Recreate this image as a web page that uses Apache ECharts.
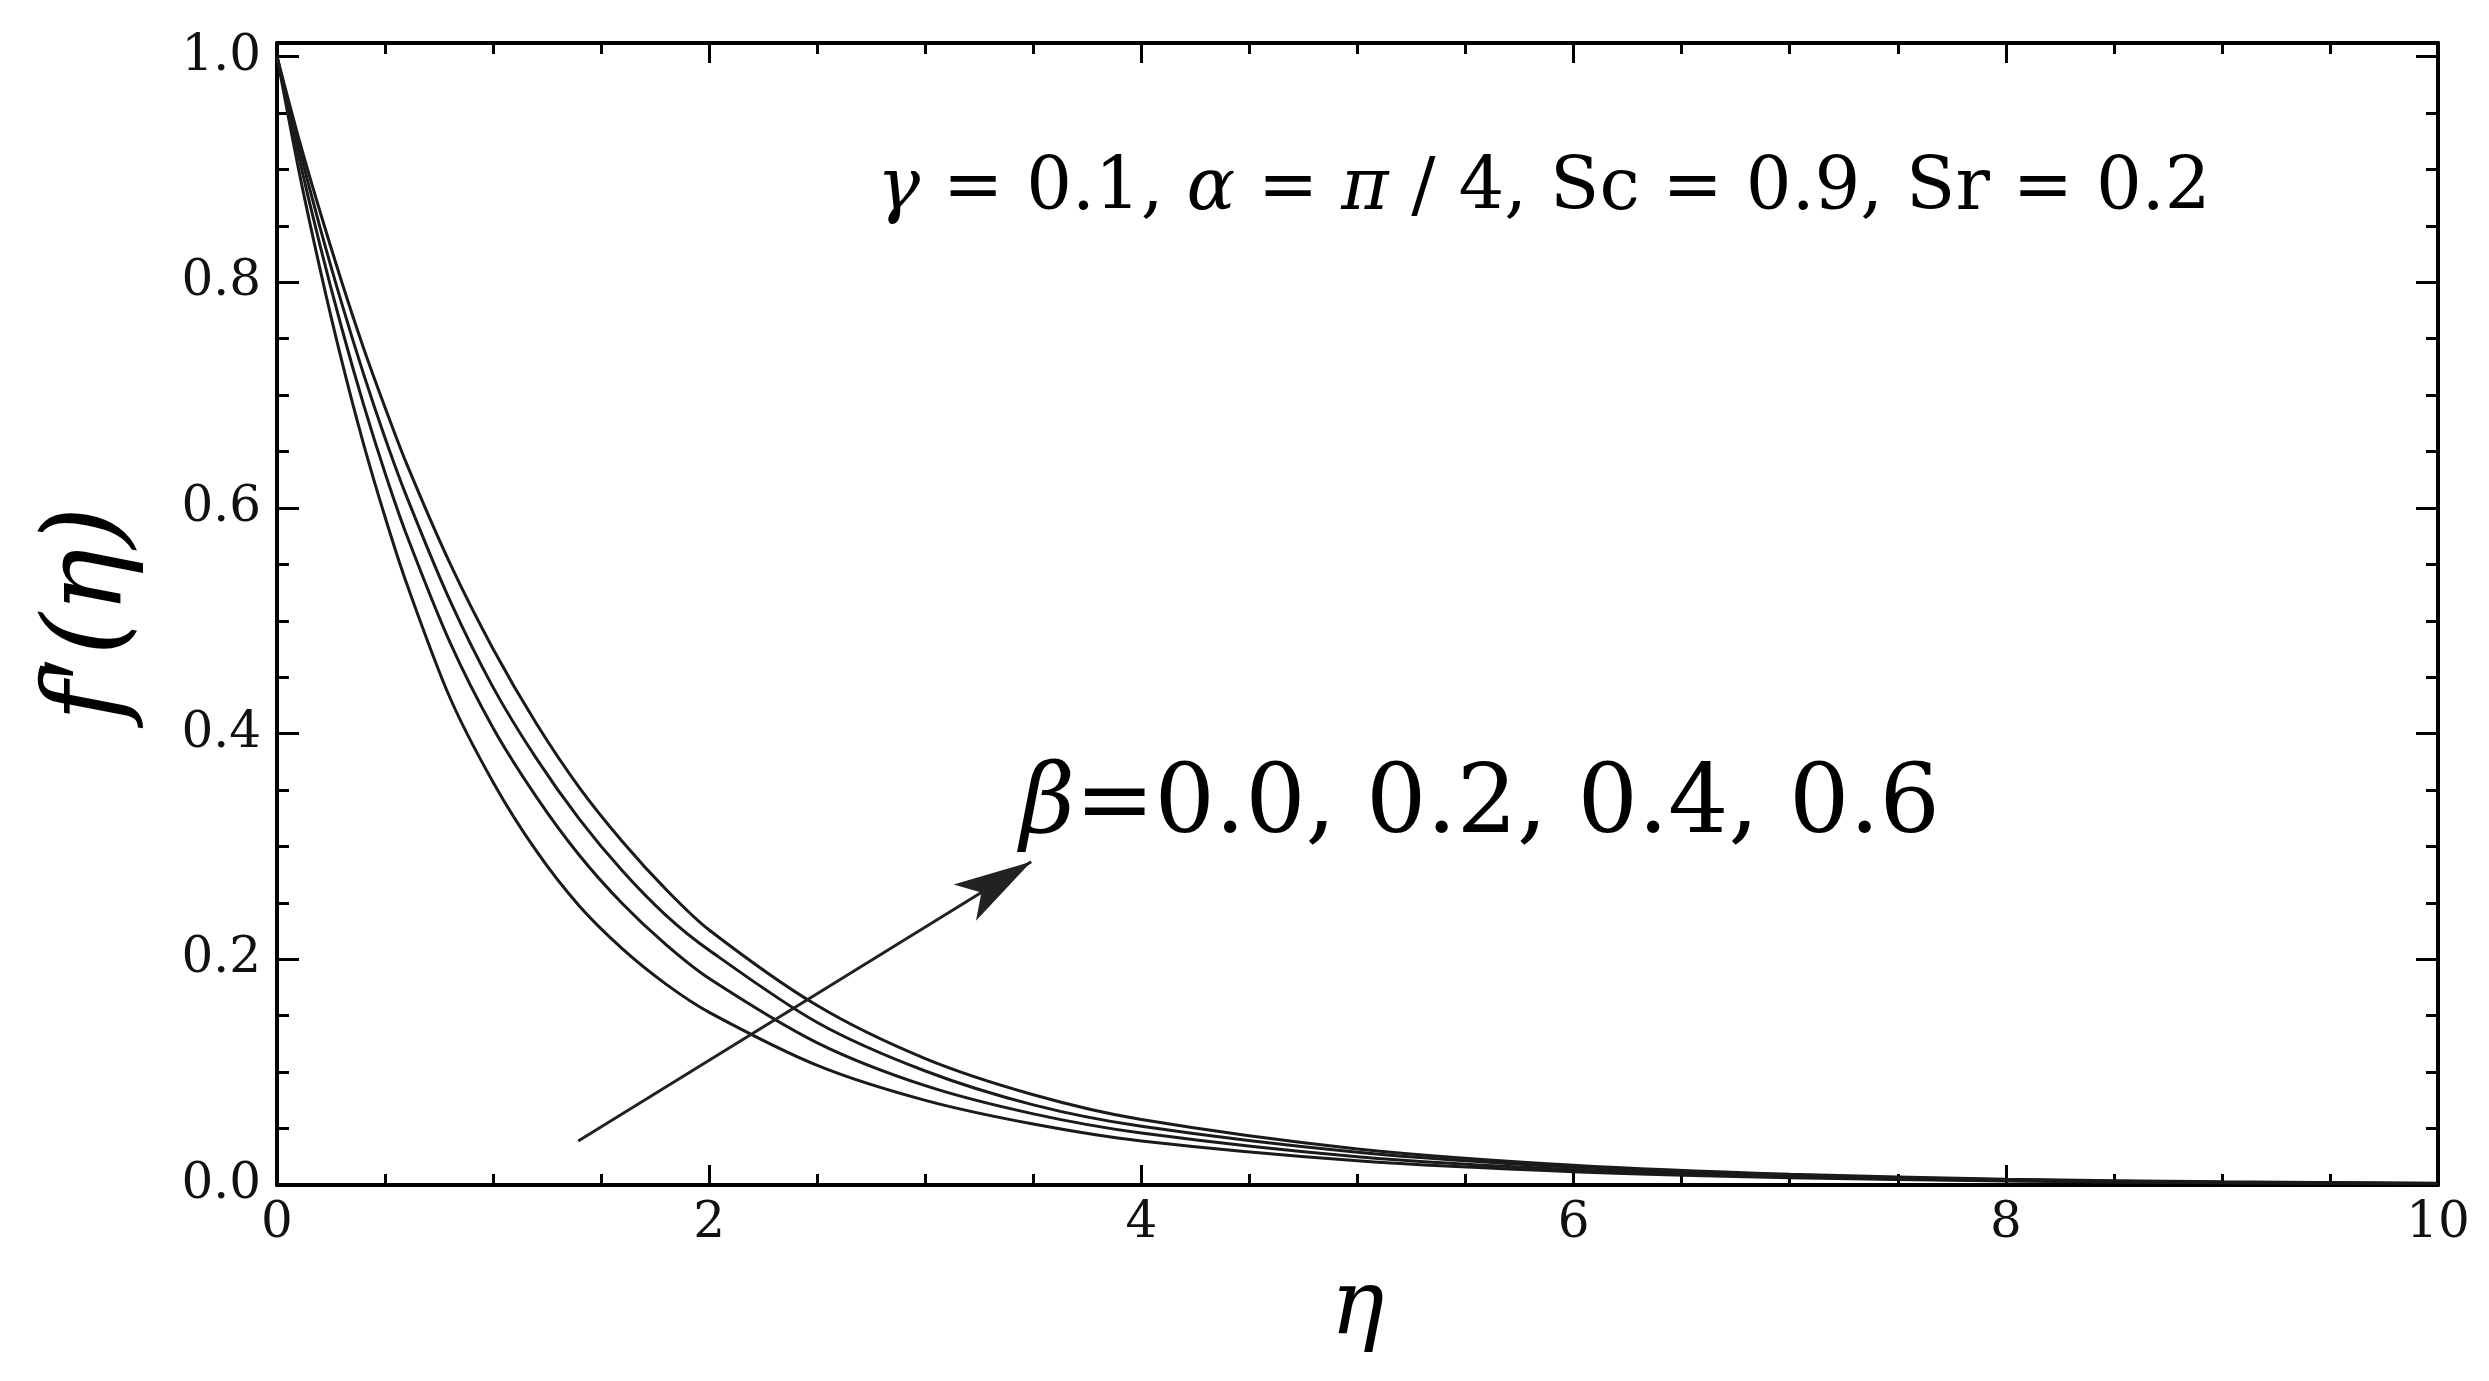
<!DOCTYPE html>
<html>
<head>
<meta charset="utf-8">
<title>f'(eta) for several beta</title>
<script src="https://cdn.jsdelivr.net/npm/echarts@6/dist/echarts.min.js"></script>
<style>
  html, body { margin: 0; padding: 0; background: #fff; }
  #chart { width: 2489px; height: 1381px; }
</style>
</head>
<body>
<div id="chart"></div>
<script>
// eta grid the curves were read at
const etaValues = [0, 0.1, 0.2, 0.3, 0.4, 0.5, 0.6, 0.8, 1.0, 1.2, 1.4, 1.6, 1.8, 2.0, 2.5, 3.0, 3.5, 4, 5, 6, 7, 8, 9, 10];
const betaLabels = ['0.0', '0.2', '0.4', '0.6'];

// f'(eta), one array per beta
const fBeta00 = [1, 0.900, 0.811, 0.730, 0.657, 0.592, 0.533, 0.432, 0.357, 0.296, 0.247, 0.209, 0.178, 0.153, 0.106, 0.075, 0.054, 0.039, 0.0215, 0.0118, 0.0065, 0.0036, 0.002, 0.0011];
const fBeta02 = [1, 0.912, 0.832, 0.759, 0.692, 0.631, 0.576, 0.481, 0.405, 0.344, 0.292, 0.249, 0.213, 0.183, 0.126, 0.088, 0.063, 0.046, 0.025, 0.0135, 0.0073, 0.004, 0.0022, 0.0012];
const fBeta04 = [1, 0.921, 0.848, 0.781, 0.719, 0.662, 0.610, 0.518, 0.441, 0.378, 0.324, 0.278, 0.239, 0.208, 0.144, 0.101, 0.071, 0.052, 0.029, 0.0157, 0.0085, 0.0046, 0.0025, 0.0014];
const fBeta06 = [1, 0.928, 0.862, 0.800, 0.742, 0.689, 0.639, 0.551, 0.475, 0.409, 0.352, 0.304, 0.262, 0.226, 0.159, 0.112, 0.080, 0.058, 0.032, 0.0175, 0.0095, 0.0052, 0.0028, 0.0015];

// tick labels
const xTicks = [0, 2, 4, 6, 8, 10];
const yTicks = [0, 0.2, 0.4, 0.6, 0.8, 1.0];
const yMax = 1.012;

// arrow across the curves (eta, f')
const arrowFrom = [1.394, 0.039];
const arrowTo = [3.49, 0.2865];

const serif = '"DejaVu Serif", "Liberation Serif", serif';
const chart = echarts.init(document.getElementById('chart'));

const frameLine = { show: true, onZero: false, lineStyle: { color: '#000', width: 4 } };
function tick(len) {
    return { show: true, inside: true, length: len, lineStyle: { color: '#000', width: 3 } };
}
const minor = { show: true, splitNumber: 4, length: 11, lineStyle: { color: '#000', width: 3 } };
const noSplit = { show: false };
const yStep = yTicks[1] - yTicks[0];

function yLabel(v) {
    return Math.abs(v / yStep - Math.round(v / yStep)) < 1e-6 ? v.toFixed(1) : '';
}

const curves = [fBeta00, fBeta02, fBeta04, fBeta06];
const series = curves.map((vals, i) => ({
    name: 'β = ' + betaLabels[i],
    type: 'line',
    data: etaValues.map((x, j) => [x, vals[j]]),
    showSymbol: false,
    smooth: 0.3,
    silent: true,
    lineStyle: { color: '#1a1a1a', width: 3 }
}));

series.push({
    type: 'line',
    data: [],
    markLine: {
        silent: true,
        animation: false,
        label: { show: false },
        lineStyle: { color: '#222', width: 3, type: 'solid' },
        data: [[
            { coord: arrowFrom, symbol: 'none' },
            { coord: arrowTo, symbol: 'arrow', symbolSize: [32, 78] }
        ]]
    }
});

function italic(size) {
    return { fontFamily: serif, fontSize: size, fontStyle: 'italic', fill: '#000' };
}
function upright(size) {
    return { fontFamily: serif, fontSize: size, fill: '#000' };
}

const option = {
    animation: false,
    backgroundColor: '#fff',
    grid: { left: 277, right: 51, top: 43, bottom: 196 },
    xAxis: [
        {
            type: 'value', position: 'bottom',
            min: xTicks[0], max: xTicks[xTicks.length - 1], interval: xTicks[1] - xTicks[0],
            axisLine: frameLine, axisTick: tick(20), minorTick: minor,
            splitLine: noSplit, minorSplitLine: noSplit,
            axisLabel: { fontFamily: serif, fontSize: 50, color: '#111', margin: 14 },
            name: 'η', nameLocation: 'middle', nameGap: 80,
            nameTextStyle: { fontFamily: serif, fontStyle: 'italic', fontSize: 90, color: '#000' }
        },
        {
            type: 'value', position: 'top',
            min: xTicks[0], max: xTicks[xTicks.length - 1], interval: xTicks[1] - xTicks[0],
            axisLine: frameLine, axisTick: tick(20), minorTick: minor,
            splitLine: noSplit, axisLabel: { show: false }
        }
    ],
    yAxis: [
        {
            type: 'value', position: 'left', min: yTicks[0], max: yMax, interval: yStep,
            axisLine: frameLine, axisTick: tick(22), splitLine: noSplit,
            axisLabel: { fontFamily: serif, fontSize: 50, color: '#111', margin: 16, formatter: yLabel }
        },
        {
            type: 'value', position: 'left', min: yTicks[0], max: yMax, interval: yStep / 4,
            axisLine: { show: false, onZero: false }, axisTick: tick(12),
            splitLine: noSplit, axisLabel: { show: false }
        },
        {
            type: 'value', position: 'right', min: yTicks[0], max: yMax, interval: yStep,
            axisLine: frameLine, axisTick: tick(22), splitLine: noSplit, axisLabel: { show: false }
        },
        {
            type: 'value', position: 'right', min: yTicks[0], max: yMax, interval: yStep / 4,
            axisLine: { show: false, onZero: false }, axisTick: tick(12),
            splitLine: noSplit, axisLabel: { show: false }
        }
    ],
    graphic: [
        {
            // y axis title, drawn by hand so the prime shows
            type: 'text', x: 92, y: 614, rotation: Math.PI / 2, silent: true,
            style: {
                text: '{f|f}{p|\u2032}{f|(η)}',
                align: 'center', verticalAlign: 'middle',
                fontFamily: serif, fontSize: 108, fill: '#000',
                rich: {
                    f: italic(108),
                    p: { fontFamily: '"Liberation Serif", serif', fontSize: 120, fill: '#000' }
                }
            }
        },
        {
            type: 'text', x: 877, y: 190, silent: true,
            style: {
                text: '{g|γ}{n| = 0.1, }{g|α}{n| = }{g|π}{n| / 4, Sc = 0.9, Sr = 0.2}',
                align: 'left', verticalAlign: 'middle',
                fontFamily: serif, fontSize: 72, fill: '#000',
                rich: { g: italic(72), n: upright(72) }
            }
        },
        {
            type: 'text', x: 1020, y: 807, silent: true,
            style: {
                text: '{g|β}{n|=0.0, 0.2, 0.4, 0.6}',
                align: 'left', verticalAlign: 'middle',
                fontFamily: serif, fontSize: 95, fill: '#000',
                rich: { g: italic(95), n: upright(95) }
            }
        }
    ],
    series: series
};

chart.setOption(option);
</script>
</body>
</html>
